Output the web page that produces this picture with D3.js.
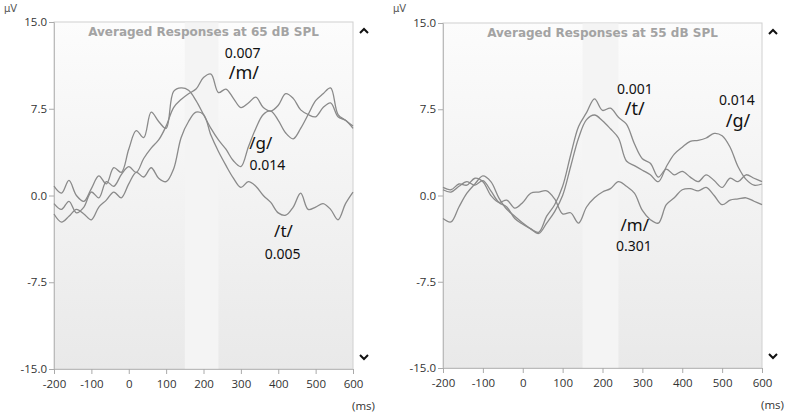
<!DOCTYPE html>
<html>
<head>
<meta charset="utf-8">
<script src="https://cdn.jsdelivr.net/npm/d3@7"></script>
<style>
  body { margin: 0; background: #fff; }
  svg { display: block; }
</style>
</head>
<body>
<svg id="chart"></svg>
<script>
// sample times (ms)
const times = [-200,-180,-160,-140,-120,-100,-80,-60,-40,-20,0,20,40,60,80,100,120,140,160,180,200,
               220,240,260,280,300,320,340,360,380,400,420,440,460,480,500,520,540,560,580,600];

// 65 dB SPL (uV)
const m65 = [-0.7,-1.2,-0.5,-1.5,-1.0,0.3,-0.2,1.2,0.8,1.8,2.5,2.0,3.2,4.1,4.8,6.0,7.6,8.3,8.8,9.2,10.2,
             10.5,8.9,9.2,8.4,7.6,8.0,8.5,7.6,7.3,7.8,8.8,8.4,7.4,7.0,6.8,7.6,8.0,6.8,6.5,5.8];
const g65 = [0.8,0.2,1.3,0.0,-0.5,0.6,1.7,1.0,2.4,2.0,4.0,5.6,5.0,7.2,6.4,5.8,9.0,9.3,9.1,8.2,7.0,
             5.8,4.8,4.0,3.0,2.5,4.2,5.8,7.0,7.3,6.5,5.4,4.9,5.8,7.0,8.2,8.8,9.3,7.0,6.5,6.0];
const t65 = [-1.6,-2.3,-1.8,-1.2,-1.6,-2.1,-1.0,-0.4,0.3,-0.2,1.0,2.0,1.6,2.4,1.5,1.2,2.3,5.0,6.4,7.2,7.0,
             5.2,3.8,2.6,1.5,0.7,1.2,0.8,0.0,-0.6,-1.5,-1.7,-1.0,0.2,-1.2,-1.0,-0.7,-1.2,-2.1,-0.7,0.3];

// 55 dB SPL (uV)
const t55 = [0.5,0.3,0.8,1.2,0.9,1.3,0.4,-0.6,-1.0,-2.0,-2.5,-2.9,-3.2,-1.8,-0.8,0.8,3.5,6.0,7.2,8.4,7.4,
             7.6,6.8,6.2,4.5,3.2,2.8,1.6,2.3,1.8,2.1,1.6,1.2,1.8,1.3,0.7,1.5,1.2,1.8,1.5,1.2];
const g55 = [-2.0,-2.3,-1.0,0.2,1.0,1.7,1.2,-0.2,-1.2,-1.8,-2.4,-2.9,-3.3,-2.4,-1.4,0.0,2.5,5.0,6.6,7.0,6.5,
             5.8,5.0,3.0,2.6,2.2,1.8,1.2,2.5,3.6,4.2,4.7,4.8,5.0,5.4,5.2,4.2,2.5,1.4,0.9,1.0];
const m55 = [0.7,0.5,1.0,0.9,1.5,1.2,0.0,-0.6,-0.4,-1.1,-0.6,0.2,0.3,0.4,-0.3,-1.6,-1.5,-2.4,-1.0,-0.2,0.3,
             0.6,1.2,0.8,0.2,-1.3,-2.1,-2.4,-0.8,-0.2,0.5,0.6,0.4,0.7,0.0,-0.8,-0.4,-0.3,-0.2,-0.5,-0.8];

const xTicks = [-200,-100,0,100,200,300,400,500,600];
const yTicks = [-15,-7.5,0,7.5,15];
const band = [150, 240];

// labels: text, time, value, size
const notes65 = [
  ['0.007', 305, 11.9, 14], ['/m/', 308, 10.1, 18],
  ['/g/', 353, 4.0, 17], ['0.014', 371, 2.2, 14],
  ['/t/', 414, -3.6, 17], ['0.005', 412, -5.5, 14]
];
const notes55 = [
  ['0.001', 281, 8.8, 14], ['/t/', 281, 7.0, 18],
  ['0.014', 537, 7.9, 14], ['/g/', 540, 6.0, 18],
  ['/m/', 281, -3.1, 17], ['0.301', 279, -4.8, 14]
];

const svg = d3.select('#chart').attr('width', 800).attr('height', 417);

const defs = svg.append('defs');
const grad = defs.append('linearGradient').attr('id', 'bg')
      .attr('x1', 0).attr('x2', 0).attr('y1', 0).attr('y2', 1);
grad.append('stop').attr('offset', '0%').attr('stop-color', '#fcfcfc');
grad.append('stop').attr('offset', '100%').attr('stop-color', '#e9e9e9');

// plain hyphen for negatives, like the original
const fmtY = d => d3.format('.1f')(d).replace('−', '-');
const fmtX = d => String(d);

function drawPanel(cfg){
      const g = svg.append('g').attr('transform', `translate(${cfg.left}, ${cfg.top})`);
      const w = cfg.width, h = cfg.height;

      const x = d3.scaleLinear().domain([-200, 600]).range([0, w]);
      const y = d3.scaleLinear().domain([-15, 15]).range([h, 0]);

      g.append('rect').attr('width', w).attr('height', h)
            .attr('fill', 'url(#bg)').attr('stroke', '#d0d0d0');

      g.append('rect')
            .attr('x', x(band[0])).attr('width', x(band[1]) - x(band[0]))
            .attr('y', 0.5).attr('height', h - 1)
            .attr('fill', '#f4f4f4');

      const yaxis = d3.axisLeft(y).tickValues(yTicks).tickSize(5).tickPadding(2).tickFormat(fmtY);
      const xaxis = d3.axisBottom(x).tickValues(xTicks).tickSize(5).tickPadding(6).tickFormat(fmtX);

      const ya = g.append('g').call(yaxis);
      const xa = g.append('g').attr('transform', `translate(0, ${h})`).call(xaxis);
      [ya, xa].forEach(a => {
            a.select('.domain').attr('stroke', '#bbb');
            a.selectAll('.tick line').attr('stroke', '#aaa');
            a.selectAll('text').attr('fill', '#333')
                  .style('font-family', 'Open Sans, sans-serif').style('font-size', '11.5px');
      });

      const line = d3.line()
            .x((d, i) => x(times[i]))
            .y(d => y(d))
            .curve(d3.curveCatmullRom.alpha(0.5));

      cfg.series.forEach(s => {
            g.append('path').datum(s)
                  .attr('d', line)
                  .attr('fill', 'none')
                  .attr('stroke', '#8a8a8a')
                  .attr('stroke-width', 1.3);
      });

      g.append('text')
            .attr('x', w / 2).attr('y', 14)
            .attr('text-anchor', 'middle')
            .style('font-family', 'DejaVu Sans, sans-serif')
            .style('font-weight', 'bold').style('font-size', '12px')
            .attr('fill', '#a3a3a3')
            .text(cfg.title);

      g.selectAll('.note').data(cfg.notes).join('text')
            .attr('x', d => x(d[1])).attr('y', d => y(d[2]))
            .attr('text-anchor', 'middle')
            .style('font-family', 'Noto Sans, sans-serif')
            .style('font-size', d => d[3] + 'px')
            .attr('fill', '#111')
            .text(d => d[0]);

      // scroll carets
      g.append('path')
            .attr('d', `M${w + 7},${11} L${w + 11},${7} L${w + 15},${11}`)
            .attr('fill', 'none').attr('stroke', '#111').attr('stroke-width', 2);
      g.append('path')
            .attr('d', `M${w + 7},${h - 14} L${w + 11},${h - 10} L${w + 15},${h - 14}`)
            .attr('fill', 'none').attr('stroke', '#111').attr('stroke-width', 2);

      svg.append('text').attr('x', cfg.left - 50).attr('y', 12)
            .style('font-family', 'DejaVu Sans, sans-serif').style('font-size', '10px')
            .attr('fill', '#555').text('μV');

      g.append('text').attr('x', w + 22).attr('y', h + 41).attr('text-anchor', 'end')
            .style('font-family', 'Open Sans, sans-serif').style('font-size', '11.5px')
            .attr('fill', '#333').text('(ms)');
}

drawPanel({left: 54, top: 22, width: 299, height: 347,
      title: 'Averaged Responses at 65 dB SPL', series: [m65, g65, t65], notes: notes65});
drawPanel({left: 443, top: 23, width: 319, height: 345,
      title: 'Averaged Responses at 55 dB SPL', series: [t55, g55, m55], notes: notes55});
</script>
</body>
</html>
